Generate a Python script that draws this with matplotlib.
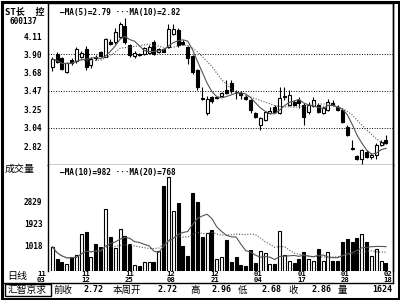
import numpy as np
import pandas as pd
import matplotlib
matplotlib.use("Agg")
import matplotlib.pyplot as plt
from matplotlib.lines import Line2D
from matplotlib.patches import Rectangle
from matplotlib.transforms import blended_transform_factory

# daily candles, 11/03 .. 02/18
opens = [3.752, 3.897, 3.85, 3.694, 3.827, 3.813, 3.865, 3.96, 3.772, 3.87,
         3.92, 3.869, 4.044, 4.044, 4.10, 4.227, 4.005, 3.877, 3.895, 3.897,
         3.909, 4.044, 3.924, 3.955, 3.985, 4.13, 4.18, 4.044, 3.978, 3.877,
         3.714, 3.387, 3.209, 3.395, 3.385, 3.41, 3.48, 3.566, 3.46, 3.446,
         3.40, 3.364, 3.21, 3.073, 3.131, 3.209, 3.286, 3.213, 3.40, 3.306,
         3.34, 3.36, 3.306, 3.22, 3.29, 3.306, 3.213, 3.248, 3.33, 3.286,
         3.248, 3.053, 2.80, 2.712, 2.673, 2.762, 2.70, 2.72, 2.84, 2.90]
closes = [3.838, 3.81, 3.72, 3.79, 3.795, 3.955, 3.91, 3.752, 3.838, 3.85,
          3.88, 4.072, 4.013, 4.153, 4.245, 4.044, 3.889, 3.915, 3.89, 3.967,
          3.985, 3.895, 3.96, 3.927, 4.19, 4.19, 4.005, 4.017, 3.85, 3.69,
          3.52, 3.372, 3.372, 3.356, 3.395, 3.449, 3.45, 3.469, 3.455, 3.42,
          3.376, 3.248, 3.166, 3.154, 3.224, 3.24, 3.228, 3.384, 3.41, 3.422,
          3.31, 3.33, 3.17, 3.30, 3.36, 3.228, 3.27, 3.344, 3.306, 3.248,
          3.11, 2.956, 2.79, 2.673, 2.781, 2.70, 2.72, 2.84, 2.88, 2.86]
highs = [3.862, 3.92, 3.87, 3.81, 3.85, 3.985, 3.93, 3.99, 3.865, 3.89,
         3.935, 4.085, 4.07, 4.20, 4.27, 4.316, 4.02, 3.93, 3.91, 3.98,
         4.00, 4.06, 3.97, 3.97, 4.25, 4.25, 4.20, 4.06, 3.99, 3.89,
         3.73, 3.52, 3.41, 3.41, 3.40, 3.46, 3.60, 3.60, 3.48, 3.47,
         3.42, 3.37, 3.22, 3.16, 3.23, 3.28, 3.30, 3.52, 3.52, 3.48,
         3.36, 3.40, 3.33, 3.34, 3.40, 3.33, 3.29, 3.38, 3.36, 3.30,
         3.26, 3.07, 2.90, 2.72, 2.79, 2.78, 2.75, 2.86, 2.90, 2.96]
lows = [3.706, 3.795, 3.71, 3.68, 3.77, 3.795, 3.85, 3.714, 3.737, 3.83,
        3.87, 3.86, 4.00, 4.02, 4.09, 4.02, 3.87, 3.85, 3.88, 3.89,
        3.90, 3.89, 3.91, 3.92, 3.97, 4.12, 3.98, 4.00, 3.78, 3.67,
        3.48, 3.365, 3.19, 3.33, 3.37, 3.40, 3.43, 3.45, 3.38, 3.37,
        3.36, 3.21, 3.15, 3.014, 3.12, 3.20, 3.22, 3.20, 3.36, 3.29,
        3.29, 3.27, 3.07, 3.20, 3.28, 3.21, 3.20, 3.24, 3.29, 3.24,
        3.09, 2.94, 2.785, 2.66, 2.62, 2.69, 2.68, 2.68, 2.83, 2.85]
volumes = [984, 486, 365, 284, 567, 648, 1499, 1580, 567, 1094,
           972, 2511, 1377, 932, 1701, 1418, 1094, 243, 203, 365,
           365, 365, 810, 3443, 3807, 2442, 2766, 1025, 608, 3171,
           2807, 1389, 1551, 1661, 474, 555, 1243, 377, 555, 231,
           190, 838, 324, 810, 729, 296, 271, 1640, 648, 405,
           336, 486, 782, 486, 417, 879, 405, 782, 405, 405,
           1175, 1308, 1175, 1324, 1499, 1175, 595, 891, 405, 312]

price_ticks = [4.11, 3.90, 3.68, 3.47, 3.25, 3.04, 2.82]
price_grid = [3.90, 3.47, 3.04]
vol_ticks = [1018, 1923, 2829]
date_months = ["11", "11", "11", "12", "12", "01", "01", "01", "02"]
date_days = ["03", "12", "25", "08", "21", "04", "17", "28", "18"]

info_labels = ["前收", "本周开", "高", "低", "收", "量"]
info_values = ["2.72", "2.72", "2.96", "2.68", "2.86", "1624"]

o = np.array(opens)
c = np.array(closes)
idx = np.arange(len(o))
hollow = c >= o
face = np.where(hollow, "white", "black")

ma5 = pd.Series(c).rolling(5, min_periods=1).mean()
ma10 = pd.Series(c).rolling(10, min_periods=1).mean()
vma10 = pd.Series(volumes).rolling(10, min_periods=1).mean()
vma20 = pd.Series(volumes).rolling(20, min_periods=1).mean()

mono = "DejaVu Sans Mono"
cjk = ["Noto Sans CJK SC", "DejaVu Sans"]
fs = 5.6

W, H = 400, 300
fig = plt.figure(figsize=(4, 3), dpi=100)


def fx(x):
    return x / W


def fy(y):
    return 1 - y / H


ax = fig.add_axes([fx(48), fy(165), (393 - 48) / W, (165 - 3) / H])
axv = fig.add_axes([fx(48), fy(271), (393 - 48) / W, (271 - 165) / H])

xl = (-0.89, 70.45)

# price panel
ax.vlines(idx, lows, highs, color="black", lw=0.8, zorder=2)
ax.bar(idx, np.maximum(np.abs(c - o), 0.007), bottom=np.minimum(o, c),
       width=0.62, color=face, edgecolor="black", linewidth=0.8, zorder=3)
ax.plot(idx, ma5, color="#555555", lw=0.8, zorder=4)
ax.plot(idx, ma10, color="#555555", lw=0.8, ls=(0, (1, 1.5)), zorder=4)
for g in price_grid:
    ax.axhline(g, color="black", lw=0.7, ls=(0, (1, 1.6)), zorder=1)
ax.set_xlim(*xl)
ax.set_ylim(2.606, 4.495)
ax.set_xticks([])
ax.set_yticks(price_ticks, [f"{t:.2f}" for t in price_ticks])
ax.tick_params(axis="y", length=0, pad=4)
for lab in ax.get_yticklabels():
    lab.set_fontfamily(mono)
    lab.set_fontweight("bold")
    lab.set_fontsize(fs)
for s in ax.spines.values():
    s.set_linewidth(1.0)
ax.text(0.035, 0.94, "—MA(5)=2.79 ···MA(10)=2.82", transform=ax.transAxes,
        fontsize=fs, family=mono, weight="bold", va="center")

# volume panel
axv.bar(idx, volumes, width=0.62, color=face, edgecolor="black", linewidth=0.8, zorder=3)
axv.plot(idx, vma10, color="#555555", lw=0.8, zorder=4)
axv.plot(idx, vma20, color="#555555", lw=0.8, ls=(0, (1, 1.5)), zorder=4)
axv.set_xlim(*xl)
axv.set_ylim(0, 106 * 40.5)
axv.set_yticks(vol_ticks, [str(v) for v in vol_ticks])
axv.tick_params(axis="y", length=0, pad=4)
axv.set_xticks([])
for lab in axv.get_yticklabels():
    lab.set_fontfamily(mono)
    lab.set_fontweight("bold")
    lab.set_fontsize(fs)
axv.spines["top"].set_visible(False)
axv.spines["bottom"].set_visible(False)
for s in axv.spines.values():
    s.set_linewidth(1.0)
axv.text(0.035, 0.93, "—MA(10)=982 ···MA(20)=768", transform=axv.transAxes,
         fontsize=fs, family=mono, weight="bold", va="center")

# date labels, two rows under the volume panel
date_pos = [-2.3, 7.0, 15.9, 24.5, 33.6, 42.5, 51.6, 60.5, 69.4]
tr = blended_transform_factory(axv.transData, fig.transFigure)
for xp, m, d in zip(date_pos, date_months, date_days):
    fig.text(xp, fy(274.5), m, transform=tr, family=mono, weight="bold",
             fontsize=5.2, ha="center", va="center")
    fig.text(xp, fy(280.3), d, transform=tr, family=mono, weight="bold",
             fontsize=5.2, ha="center", va="center")

# left side labels
fig.text(fx(5), fy(12.5), "ST长  控", family=["DejaVu Sans Mono", "Noto Sans CJK SC"],
         fontsize=6.5, weight="bold", va="center")
fig.text(fx(10), fy(21.5), "600137", family=mono, fontsize=fs, weight="bold", va="center")
fig.text(fx(5), fy(168.5), "成交量", family=cjk, fontsize=7.2, va="center")
fig.text(fx(7), fy(276.5), "日线", family=cjk, fontsize=7.2, va="center")

# frame lines
fig.add_artist(Rectangle((fx(1.5), fy(298.5)), fx(397), 297 / H, fill=False,
                         lw=2.2, edgecolor="black", transform=fig.transFigure))
fig.add_artist(Line2D([fx(393), fx(393)], [fy(3), fy(283)], lw=1.0, color="black"))
fig.add_artist(Line2D([fx(3), fx(393)], [fy(283.3), fy(283.3)], lw=1.0, color="black"))
fig.add_artist(Rectangle((fx(4.5), fy(295.5)), 46 / W, 12 / H, fill=False,
                         lw=1.0, edgecolor="black", transform=fig.transFigure))

# bottom info bar
fig.text(fx(27.5), fy(290), "汇智京求", family=cjk, fontsize=7.0, ha="center", va="center")
label_x = [53, 113, 190, 238, 288, 338]
value_x = [104, 177, 232, 282, 332, 392]
for lx, vx, lt, vt in zip(label_x, value_x, info_labels, info_values):
    fig.text(fx(lx), fy(290), lt, family=cjk, fontsize=6.8, va="center")
    fig.text(fx(vx), fy(290), vt, family=mono, fontsize=6.0, weight="bold",
             ha="right", va="center")

fig.savefig("out.png", dpi=100)
